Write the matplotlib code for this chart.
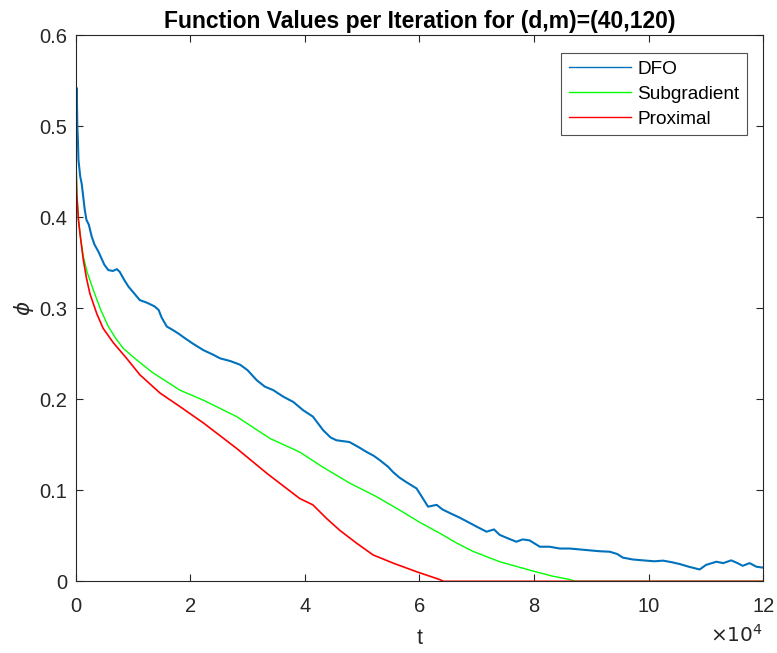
import matplotlib
matplotlib.use("Agg")
import matplotlib.pyplot as plt
from matplotlib.ticker import FuncFormatter

plt.rcParams['font.family'] = ['Liberation Sans', 'DejaVu Sans']

# iterations in units of 1e4
dfo_t = [0.0, 0.01, 0.02, 0.03, 0.04, 0.05, 0.08, 0.106, 0.16, 0.19, 0.23, 0.28, 0.33, 0.40, 0.45,
         0.50, 0.57, 0.65, 0.72, 0.77, 0.85, 0.92, 1.0, 1.12, 1.25, 1.38, 1.45, 1.50, 1.59, 1.7,
         1.80, 1.91, 2.05, 2.23, 2.4, 2.52, 2.7, 2.87, 3.0, 3.16, 3.3, 3.45, 3.62, 3.8, 3.97,
         4.14, 4.32, 4.45, 4.55, 4.78, 4.95, 5.08, 5.2, 5.31, 5.45, 5.54, 5.65, 5.77, 5.95, 6.05,
         6.15, 6.30, 6.40, 6.53, 6.7, 6.88, 7.0, 7.17, 7.30, 7.40, 7.55, 7.69, 7.80, 7.92, 8.10,
         8.27, 8.45, 8.62, 8.8, 8.97, 9.15, 9.32, 9.45, 9.55, 9.72, 9.90, 10.1, 10.25, 10.4, 10.54,
         10.7, 10.89, 11.0, 11.18, 11.3, 11.44, 11.55, 11.64, 11.76, 11.88, 12.0]
dfo_v = [0.50, 0.53, 0.542, 0.50, 0.485, 0.463, 0.445, 0.437, 0.408, 0.397, 0.392, 0.379, 0.37, 0.362, 0.355,
         0.348, 0.342, 0.341, 0.343, 0.340, 0.331, 0.324, 0.318, 0.309, 0.306, 0.302, 0.298, 0.290, 0.280, 0.276,
         0.272, 0.267, 0.261, 0.254, 0.249, 0.245, 0.242, 0.238, 0.232, 0.221, 0.214, 0.210, 0.203, 0.197, 0.188,
         0.181, 0.166, 0.158, 0.155, 0.153, 0.147, 0.142, 0.138, 0.133, 0.126, 0.120, 0.114, 0.109, 0.102, 0.092,
         0.082, 0.084, 0.079, 0.075, 0.070, 0.064, 0.060, 0.0545, 0.057, 0.051, 0.047, 0.0435, 0.046, 0.045, 0.038,
         0.038, 0.036, 0.036, 0.035, 0.034, 0.033, 0.0325, 0.030, 0.026, 0.024, 0.023, 0.022, 0.0227, 0.021, 0.019,
         0.016, 0.013, 0.018, 0.0215, 0.020, 0.023, 0.020, 0.017, 0.020, 0.016, 0.015]

sub_t = [0.0, 0.02, 0.05, 0.09, 0.135, 0.2, 0.31, 0.44, 0.57, 0.7, 0.83, 1.07, 1.35, 1.6, 1.82, 2.23,
         2.81, 3.39, 3.91, 4.3, 4.78, 5.25, 5.66, 6.0, 6.35, 6.65, 6.93, 7.40, 7.98, 8.3, 8.62, 8.72, 12.0]
sub_v = [0.489, 0.43, 0.397, 0.375, 0.357, 0.340, 0.320, 0.298, 0.280, 0.267, 0.256, 0.243, 0.229, 0.219, 0.210, 0.199,
         0.181, 0.157, 0.142, 0.126, 0.108, 0.093, 0.078, 0.065, 0.053, 0.042, 0.033, 0.0215, 0.0113, 0.006, 0.002, 0.0, 0.0]

prox_t = [0.0, 0.01, 0.02, 0.05, 0.077, 0.135, 0.19, 0.25, 0.37, 0.48, 0.66, 0.89, 1.12, 1.47, 1.82, 2.23,
          2.81, 3.35, 3.91, 4.14, 4.38, 4.61, 4.90, 5.19, 5.54, 5.95, 6.35, 6.42, 12.0]
prox_v = [0.483, 0.45, 0.425, 0.397, 0.382, 0.353, 0.333, 0.316, 0.294, 0.278, 0.262, 0.245, 0.227, 0.207, 0.192, 0.174,
          0.146, 0.118, 0.091, 0.084, 0.069, 0.056, 0.042, 0.029, 0.020, 0.0105, 0.002, 0.0, 0.0]

labels = ['DFO', 'Subgradient', 'Proximal']
colors = ['#0072BD', '#00FF00', '#FF0000']

scale = 1e4
fig = plt.figure(figsize=(7.77, 6.53), dpi=100)
ax = fig.add_axes([0.0973, 0.1098, 0.8851, 0.8362])

ax.plot([t * scale for t in dfo_t], dfo_v, color=colors[0], lw=1.5, label=labels[0])
ax.plot([t * scale for t in sub_t], sub_v, color=colors[1], lw=1.0, label=labels[1])
ax.plot([t * scale for t in prox_t], prox_v, color=colors[2], lw=1.2, label=labels[2])

ax.set_xlim(0, 12e4)
ax.set_ylim(0, 0.6)
ax.set_xticks([i * 2e4 for i in range(7)])
ax.set_yticks([0, 0.1, 0.2, 0.3, 0.4, 0.5, 0.6])
ax.xaxis.set_major_formatter(FuncFormatter(lambda v, p: f"{v/1e4:g}"))
ax.yaxis.set_major_formatter(FuncFormatter(lambda v, p: f"{v:g}"))

axc = '#262626'
for s in ax.spines.values():
    s.set_color(axc)
    s.set_linewidth(0.8)
ax.tick_params(direction='in', length=5, width=0.8, top=True, right=True, colors=axc,
               labelsize=14.5, labelcolor='#262626')
ax.tick_params(axis='x', pad=11)
ax.tick_params(axis='y', pad=6)

ax.set_title('Function Values per Iteration for (d,m)=(40,120)', fontsize=16.5, fontweight='bold', pad=5)
ax.set_xlabel('t', fontsize=15.5, color='#262626', labelpad=9)
ax.set_ylabel(r'$\phi$', fontsize=15.5, color='#262626', labelpad=2)
ax.text(1.0, -0.078, r'$\times10^{4}$', transform=ax.transAxes, ha='right', va='top',
        fontsize=14.5, color='#262626')

leg = ax.legend(loc='upper right', bbox_to_anchor=(0.976, 0.9676), borderaxespad=0,
                fontsize=13.7, frameon=True, fancybox=False, edgecolor='#262626',
                handlelength=3.3, handletextpad=0.3, borderpad=0.4, labelspacing=0.4)
leg.get_frame().set_linewidth(0.8)
for ln in leg.get_lines():
    ln.set_linewidth(1.0)

fig.savefig('out.png', dpi=100)
